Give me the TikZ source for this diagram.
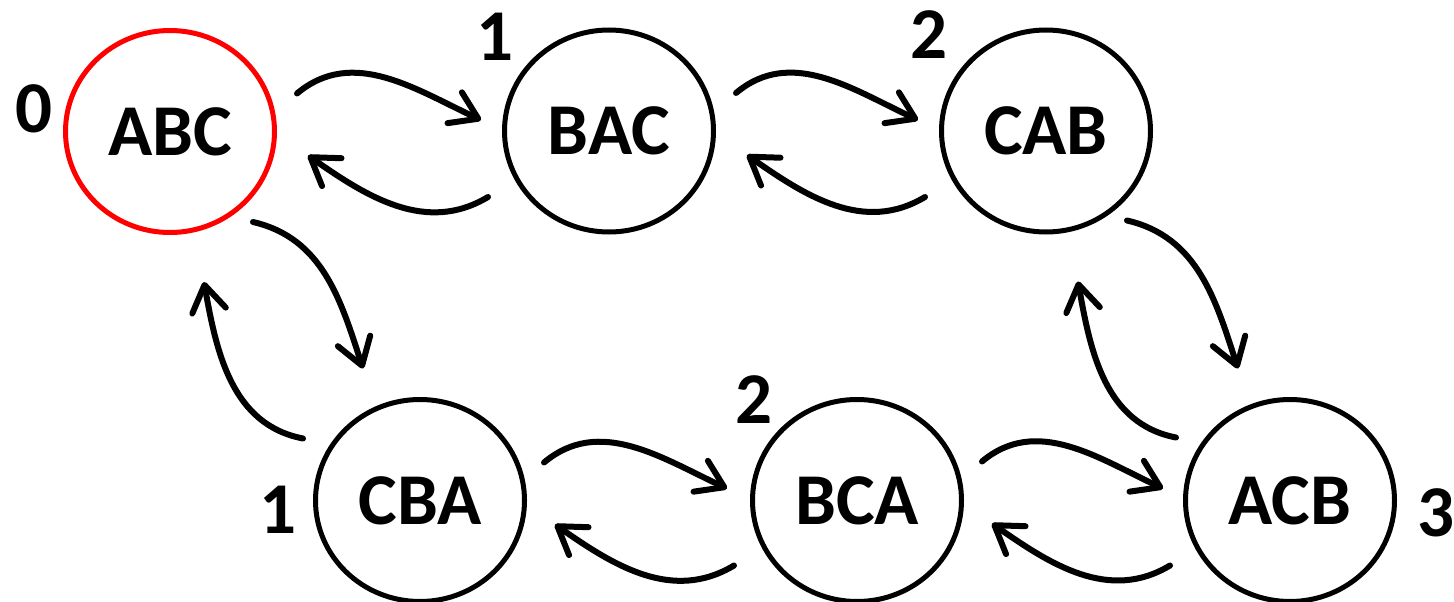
\documentclass[tikz,border=0pt]{standalone}
\usepackage{fontspec}
\setmainfont{Carlito}
\usetikzlibrary{arrows.meta,shapes.geometric}
\definecolor{startred}{RGB}{255,0,0}
\begin{document}
\begin{tikzpicture}[x=1pt,y=1pt,
  state/.style={ellipse, draw, line width=5pt, minimum width=209pt, minimum height=202pt, inner sep=0pt, font=\fontsize{73}{80}\selectfont\bfseries},
  startstate/.style={state, draw=startred},
  num/.style={font=\fontsize{73}{80}\selectfont\bfseries, inner sep=0pt},
  arr/.style={line width=6pt, line cap=round, -{Straight Barb[length=26pt,width=34pt,round]}}]
\useasboundingbox (0,0) rectangle (1454,-602);
\node[startstate] (ABC) at (170,-131.5) {ABC};
\node[state] (BAC) at (609,-131) {BAC};
\node[state] (CAB) at (1046,-131) {CAB};
\node[state] (CBA) at (420,-500.5) {CBA};
\node[state] (BCA) at (857,-500.5) {BCA};
\node[state] (ACB) at (1290,-500.5) {ACB};
\node[num] (nABC) at (34,-109) {0};
\node[num] (nBAC) at (495,-37) {1};
\node[num] (nCAB) at (929,-35) {2};
\node[num] (nCBA) at (278,-510) {1};
\node[num] (nBCA) at (754,-400) {2};
\node[num] (nACB) at (1436,-513) {3};
% horizontal pairs
\draw[arr] ([shift={(127,38)}]ABC.center) to[out=40,in=155] ([shift={(-128,11)}]BAC.center);
\draw[arr] ([shift={(-121,-66)}]BAC.center) to[out=211,in=-35] ([shift={(138,-24)}]ABC.center);
\draw[arr] ([shift={(127,38)}]BAC.center) to[out=40,in=155] ([shift={(-128,11)}]CAB.center);
\draw[arr] ([shift={(-121,-66)}]CAB.center) to[out=211,in=-35] ([shift={(138,-24)}]BAC.center);
\draw[arr] ([shift={(124,38)}]CBA.center) to[out=40,in=155] ([shift={(-130,12)}]BCA.center);
\draw[arr] ([shift={(-123,-65)}]BCA.center) to[out=211,in=-35] ([shift={(135,-24)}]CBA.center);
\draw[arr] ([shift={(125,39)}]BCA.center) to[out=40,in=155] ([shift={(-127,12)}]ACB.center);
\draw[arr] ([shift={(-120,-65)}]ACB.center) to[out=211,in=-35] ([shift={(135,-23)}]BCA.center);
% vertical pairs
\draw[arr] ([shift={(83,-90.5)}]ABC.center) to[out=-13,in=108] ([shift={(-57,132)}]CBA.center);
\draw[arr] ([shift={(-117,62)}]CBA.center) to[out=169,in=-80] ([shift={(34,-150.5)}]ABC.center);
\draw[arr] ([shift={(81,-89.5)}]CAB.center) to[out=-13,in=108] ([shift={(-52,132)}]ACB.center);
\draw[arr] ([shift={(-114,63)}]ACB.center) to[out=169,in=-80] ([shift={(32,-150.5)}]CAB.center);
\end{tikzpicture}
\end{document}
